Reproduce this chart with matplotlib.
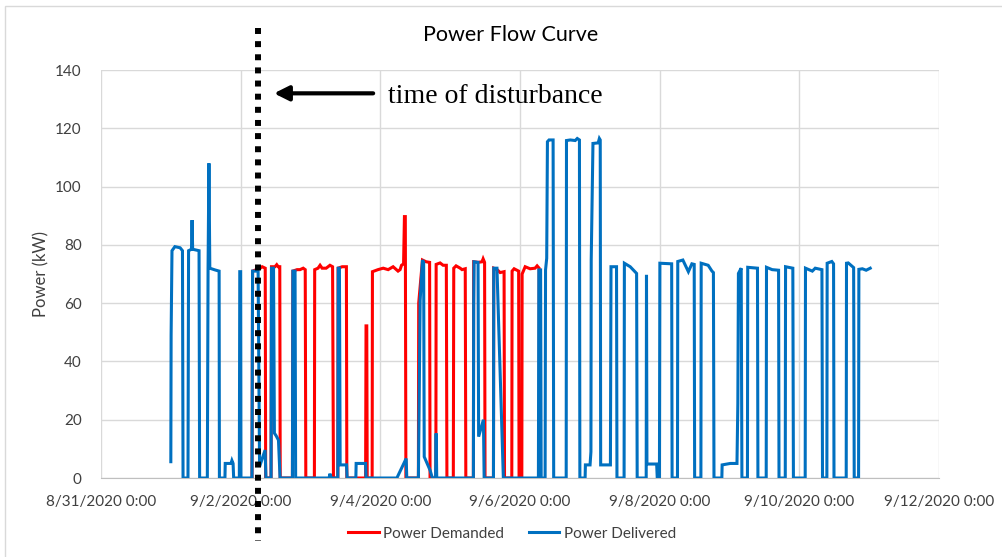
import numpy as np
import pandas as pd
import matplotlib
matplotlib.use("Agg")
import matplotlib.pyplot as plt
import matplotlib.dates as mdates
from matplotlib.patches import Rectangle

plt.rcParams["font.family"] = ["Lato", "DejaVu Sans"]

# Hours after 8/31/2020 0:00 and power in kW
delivered_hours = [
    24.0, 24.1, 24.4, 25.4, 27.2, 28.0, 28.2,
    29.9, 30.1, 31.1, 31.3, 31.5, 33.7, 33.9,
    36.55, 36.8, 37.1, 37.4, 39.2, 40.6, 40.7,
    42.6, 42.7, 44.7, 45.0, 45.4, 45.6,
    47.55, 47.7, 48.0, 48.1,
    51.9, 52.1, 54.0, 54.5, 56.4, 56.7,
    58.45, 58.6, 59.3, 59.6, 60.2, 61.0, 61.55,
    65.8, 65.95, 66.7, 66.9,
    78.4, 78.7, 79.1,
    81.4, 81.55, 81.95, 82.2, 84.4, 84.6,
    87.6, 87.7, 90.95, 91.1,
    101.7, 104.9, 105.1,
    109.1, 109.2, 109.7, 110.5, 110.9, 111.1, 113.1, 113.9,
    115.0, 115.2, 115.4,
    128.0, 128.1, 128.25, 129.6, 129.8, 131.45, 131.7,
    134.9, 135.0, 136.1, 138.3,
    150.35, 150.5, 151.1, 151.3,
    152.65, 152.8, 153.2, 153.45, 154.0, 155.4, 155.6,
    159.9, 160.0, 161.3, 163.0, 163.7, 164.45, 164.6,
    166.4, 166.5, 168.1, 168.4, 168.5, 169.1, 170.9, 171.3, 171.6, 171.75,
    175.1, 175.3, 177.2, 177.35,
    179.8, 179.9, 181.9, 184.1, 184.3,
    187.4, 187.5, 187.65, 191.0, 191.2,
    191.95, 192.1, 196.15, 196.3,
    198.15, 198.25, 200.0, 201.9, 203.1, 203.9, 204.05,
    206.2, 206.3, 208.7, 210.0, 210.5, 210.7,
    213.4, 213.5, 216.3, 218.6, 218.9, 219.1, 220.05, 220.3,
    222.2, 222.3, 225.65, 225.8,
    228.65, 228.75, 230.7, 232.9, 233.05,
    235.2, 235.3, 237.8, 238.0,
    242.05, 242.15, 244.5, 245.5, 247.8, 248.0,
    249.5, 249.6, 251.2, 251.8, 251.95,
    256.15, 256.25, 256.85, 258.7, 258.9,
    260.4, 260.5, 261.7, 263.0, 264.4,
]
delivered_kw = [
    5.6, 49, 78, 79.4, 79, 78, 0,
    0, 78, 78.5, 88.5, 78.5, 78, 0,
    0, 72, 108, 72, 71.4, 71, 0,
    0, 5, 5, 6, 5, 0,
    0, 70.8, 70.8, 0,
    0, 71, 71, 3.9, 9.6, 0,
    0, 72, 72, 15.4, 14.5, 13, 0,
    0, 71, 71, 0,
    0, 1.5, 0,
    0, 72, 72, 4.5, 4.5, 0,
    0, 5, 5, 0,
    0, 6.7, 0,
    0, 10.7, 61, 74.8, 74, 7.3, 2.7, 0,
    0, 15.3, 0,
    0, 60, 74.2, 74, 14.2, 20, 0,
    0, 72, 72, 0,
    0, 71.4, 71.4, 0,
    0, 71.4, 75.4, 115.4, 116, 116, 0,
    0, 115.8, 116, 115.8, 116.5, 116, 0,
    0, 4.5, 4.5, 9, 74.8, 114.8, 115, 116.5, 116, 4.5,
    4.5, 72.5, 72.5, 0,
    0, 73.7, 72.5, 70.2, 0,
    0, 69.7, 4.8, 4.8, 0,
    0, 73.7, 73.5, 0,
    0, 74.3, 74.8, 70.8, 73.5, 73.3, 0,
    0, 73.7, 73, 71, 70.5, 0,
    0, 4.5, 5, 5, 25.6, 70.2, 72, 0,
    0, 72.3, 72, 0,
    0, 72.3, 71.5, 71.3, 0,
    0, 72.5, 72, 0,
    0, 72, 71, 72, 71.5, 0,
    0, 73.7, 74.3, 73.5, 0,
    0, 73.7, 73.8, 72.2, 0,
    0, 71.6, 71.8, 71.3, 72,
]

demanded_hours = [
    51.9, 52.1, 54.7, 55.4, 56.45, 56.6,
    58.45, 58.6, 59.8, 60.4, 60.9, 61.45, 61.6,
    65.8, 65.95, 67.4, 68.4, 69.5, 70.2, 70.4,
    73.35, 73.45, 74.6, 75.3, 76.0, 77.4, 78.7, 79.6, 79.9,
    81.4, 81.5, 82.9, 84.35, 84.5,
    90.95, 91.1, 91.35, 91.5,
    93.2, 93.3, 95.2, 97.0, 98.7, 100.4, 102.1, 102.8, 103.3, 104.0,
    104.3, 104.6, 104.8,
    109.1, 109.2, 110.5, 111.75, 112.95, 113.1,
    115.1, 115.2, 116.55, 117.6, 118.7, 118.9,
    121.1, 121.25, 122.05, 123.45, 124.1, 125.2, 125.4,
    128.0, 128.1, 129.6, 131.0, 131.35, 131.85, 132.0,
    134.9, 135.0, 136.15, 137.2, 138.55, 138.7,
    141.2, 141.3, 142.0, 143.55, 143.7,
    144.65, 144.75, 145.8, 147.5, 149.2, 149.9, 150.6, 150.7,
]
demanded_kw = [
    0, 71, 72, 72.5, 72, 0,
    0, 72.5, 72.5, 73.2, 72.5, 72.5, 0,
    0, 71, 71.5, 71.5, 72, 71.5, 0,
    0, 71.5, 72, 73, 72, 72, 73, 72.5, 0,
    0, 72, 72.5, 72.5, 0,
    0, 52.2, 52.2, 0,
    0, 70.8, 71.5, 72, 71.5, 72.5, 71, 71.5, 73, 73.5,
    89.7, 89.7, 0,
    0, 60, 74.8, 74.2, 74, 0,
    0, 73.3, 73.8, 73, 73, 0,
    0, 72, 72.8, 72, 71.5, 71.8, 0,
    0, 74.2, 74, 74.2, 75.2, 74, 0,
    0, 72, 71.5, 70.5, 70.8, 0,
    0, 71, 71.8, 71, 0,
    0, 70, 72.5, 71.8, 72, 72.8, 72, 0,
]

disturbance_hour = 54.0
x_ticks = pd.date_range("2020-08-31", "2020-09-12", freq="2D")
y_ticks = [0, 20, 40, 60, 80, 100, 120, 140]

start = pd.Timestamp("2020-08-31")
t_del = start + pd.to_timedelta(delivered_hours, unit="h")
t_dem = start + pd.to_timedelta(demanded_hours, unit="h")
t_dist = start + pd.Timedelta(hours=disturbance_hour)

fig = plt.figure(figsize=(10.02, 5.57), dpi=100)
ax = fig.add_axes([0.1008, 0.1418, 0.8362, 0.7325])

red = "#FF0000"
blue = "#0070C0"
ax.plot(t_dem, demanded_kw, color=red, lw=2.2, label="Power Demanded",
        solid_joinstyle="miter", zorder=3)
ax.plot(t_del, delivered_kw, color=blue, lw=2.2, label="Power Delivered",
        solid_joinstyle="miter", zorder=4)

ax.set_xlim(x_ticks[0], x_ticks[-1])
ax.set_ylim(0, 140)
ax.set_xticks(x_ticks)
ax.xaxis.set_major_formatter(
    plt.FuncFormatter(lambda v, p: (lambda d: f"{d.month}/{d.day}/{d.year} 0:00")(mdates.num2date(v))))
ax.set_yticks(y_ticks)
ax.grid(True, color="#d9d9d9", lw=1.0)
ax.set_axisbelow(True)
for s in ["top", "right", "left"]:
    ax.spines[s].set_visible(False)
ax.spines["bottom"].set_color("#bfbfbf")
ax.tick_params(length=0, labelsize=11, colors="#404040")
ax.tick_params(axis="x", pad=12)
ax.tick_params(axis="y", pad=14)
ax.set_ylabel("Power (kW)", fontsize=12, color="#404040", labelpad=4)

fig.text(0.51, 0.937, "Power Flow Curve", ha="center", va="center",
         fontsize=15.5, color="#000000")

# disturbance marker
ax.plot([t_dist, t_dist], [1.103, -0.154], transform=ax.get_xaxis_transform(),
        color="black", lw=4.3, linestyle=(0, (1, 1.2)), dash_capstyle="butt",
        clip_on=False, zorder=6)
ax.annotate("", xy=(start + pd.Timedelta(hours=58.5), 132),
            xytext=(start + pd.Timedelta(hours=94.5), 132),
            arrowprops=dict(arrowstyle="-|>", lw=3, color="black", mutation_scale=22),
            zorder=6)
ax.text(start + pd.Timedelta(hours=98.5), 131, "time of disturbance",
        family="Liberation Serif", fontsize=20, va="center", ha="left")

fig.legend(loc="center", bbox_to_anchor=(0.511, 0.042), ncol=2, frameon=False,
           fontsize=11, handlelength=2.0, columnspacing=1.6, handletextpad=0.3,
           labelcolor="#404040")

fig.add_artist(Rectangle((0.005, -0.01), 1.2, 1.0, transform=fig.transFigure,
                         fill=False, edgecolor="#d9d9d9", lw=1))

fig.savefig("out.png", dpi=100)
